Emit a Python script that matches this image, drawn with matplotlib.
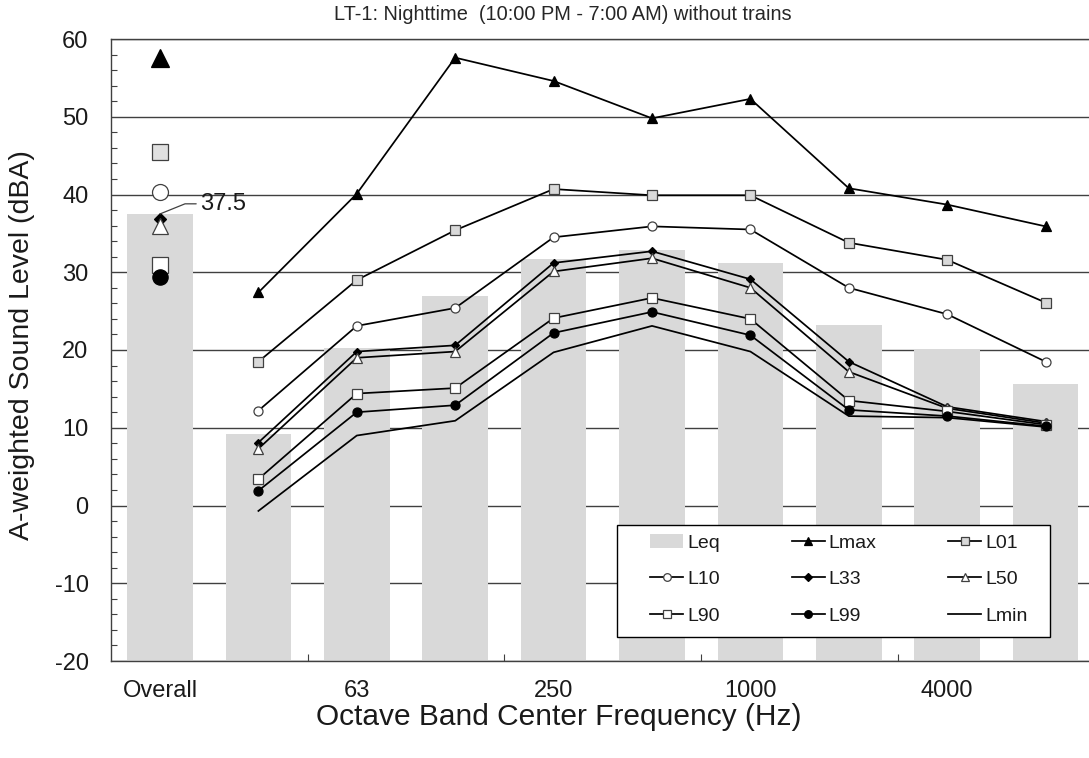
import matplotlib
matplotlib.use("Agg")
import matplotlib.pyplot as plt
from matplotlib.patches import Patch, Rectangle
from matplotlib.lines import Line2D
from matplotlib.ticker import MultipleLocator, FixedLocator

plt.rcParams['font.family'] = ['Liberation Sans', 'DejaVu Sans']
plt.rcParams['axes.unicode_minus'] = False

# ---- data ----
categories = ['Overall', '31.5', '63', '125', '250', '500', '1000', '2000', '4000', '8000']
tick_labels = ['Overall', '', '63', '', '250', '', '1000', '', '4000', '']

leq_overall = 37.5
leq_bands = [9.2, 20.3, 27.0, 31.7, 32.8, 31.2, 23.2, 20.1, 15.6]

lmax_overall = 57.6
lmax = [27.4, 40.1, 57.6, 54.6, 49.8, 52.3, 40.8, 38.7, 35.9]
l01_overall = 45.5
l01 = [18.5, 29.0, 35.4, 40.7, 39.9, 39.9, 33.8, 31.6, 26.1]
l10_overall = 40.3
l10 = [12.2, 23.1, 25.4, 34.5, 35.9, 35.5, 28.0, 24.6, 18.5]
l33_overall = 36.9
l33 = [8.1, 19.8, 20.6, 31.2, 32.7, 29.1, 18.5, 12.7, 10.8]
l50_overall = 36.0
l50 = [7.3, 19.0, 19.8, 30.1, 31.8, 28.0, 17.2, 12.5, 10.6]
l90_overall = 30.9
l90 = [3.4, 14.4, 15.1, 24.1, 26.7, 24.0, 13.5, 12.1, 10.4]
l99_overall = 29.4
l99 = [1.9, 12.0, 12.9, 22.2, 24.9, 21.9, 12.3, 11.5, 10.2]
lmin = [-0.7, 9.0, 10.9, 19.7, 23.1, 19.8, 11.5, 11.3, 10.1]

title = 'LT-1: Nighttime  (10:00 PM - 7:00 AM) without trains'
y_min, y_max = -20, 60

# ---- figure ----
W, H = 1089, 758
fig = plt.figure(figsize=(W / 100, H / 100), dpi=100)
ax = fig.add_axes([110.8 / W, (H - 661) / H, 984 / W, 622 / H])

xs = list(range(len(categories)))
band_x = xs[1:]
bar_color = '#d9d9d9'
grid_color = '#404040'
text_color = '#1a1a1a'

ax.set_axisbelow(True)
ax.yaxis.grid(True, which='major', color=grid_color, linewidth=1.0)
leq_all = [leq_overall] + leq_bands
# Excel-style bars rising from the bottom of the value axis
ax.bar(xs, [v - y_min for v in leq_all], bottom=y_min, width=0.667,
       color=bar_color, zorder=2)

lw = 1.25
series = [
    (lmax, dict(marker='^', ms=7.5, mfc='black', mec='black')),
    (l01, dict(marker='s', ms=6.5, mfc=bar_color, mec='#404040')),
    (l10, dict(marker='o', ms=6.5, mfc='white', mec='#404040')),
    (l33, dict(marker='D', ms=4.5, mfc='black', mec='black')),
    (l50, dict(marker='^', ms=7.5, mfc='white', mec='#404040')),
    (l90, dict(marker='s', ms=6.5, mfc='white', mec='#404040')),
    (l99, dict(marker='o', ms=6.5, mfc='black', mec='black')),
    (lmin, dict(marker=None)),
]
for vals, st in series:
    ax.plot(band_x, vals, color='black', linewidth=lw, zorder=4, mew=0.9, **st)

overall = [
    (lmax_overall, dict(marker='^', ms=12.5, mfc='black', mec='black')),
    (l01_overall, dict(marker='s', ms=11.5, mfc='#e0e0e0', mec='#404040')),
    (l10_overall, dict(marker='o', ms=11.5, mfc='white', mec='#404040')),
    (l33_overall, dict(marker='D', ms=6.5, mfc='black', mec='black')),
    (l50_overall, dict(marker='^', ms=12, mfc='white', mec='#404040')),
    (l90_overall, dict(marker='s', ms=11, mfc='white', mec='#404040')),
    (l99_overall, dict(marker='o', ms=11, mfc='black', mec='black')),
]
for v, st in overall:
    ax.plot([0], [v], linestyle='none', zorder=5, mew=0.9, **st)

ax.annotate(f'{leq_overall:.1f}', xy=(0, leq_overall), xytext=(0.41, 38.8),
            fontsize=17, ha='left', va='center', color=text_color, zorder=6,
            arrowprops=dict(arrowstyle='-', color='#404040', lw=0.9,
                            shrinkA=1, shrinkB=0,
                            connectionstyle='angle,angleA=0,angleB=22,rad=0'))

ax.set_xlim(-0.5, len(categories) - 0.5)
ax.set_ylim(y_min, y_max)
ax.yaxis.set_major_locator(MultipleLocator(10))
ax.yaxis.set_minor_locator(MultipleLocator(2))
ax.tick_params(axis='y', which='major', length=0, labelsize=17, pad=16,
               colors=text_color)
ax.tick_params(axis='y', which='minor', direction='in', length=4, width=0.8,
               color='#404040')

ax.xaxis.set_major_locator(FixedLocator(xs))
ax.set_xticklabels(tick_labels)
ax.xaxis.set_minor_locator(FixedLocator([1.5, 3.5, 5.5, 7.5]))
ax.tick_params(axis='x', which='major', length=0, labelsize=17, pad=14,
               colors=text_color)
ax.tick_params(axis='x', which='minor', direction='in', length=5, width=0.8,
               color='#404040')

for s in ['left', 'bottom', 'top']:
    ax.spines[s].set_color(grid_color)
    ax.spines[s].set_linewidth(1.0)
ax.spines['right'].set_visible(False)

fig.text(22 / W, 1 - 345 / H, 'A-weighted Sound Level (dBA)', rotation=90,
         ha='center', va='center', fontsize=20.5, color=text_color)
fig.text(559 / W, 1 - 717 / H, 'Octave Band Center Frequency (Hz)',
         ha='center', va='center', fontsize=21.5, color=text_color)
fig.text(563 / W, 1 - 14 / H, title, ha='center', va='center',
         fontsize=14.4, color='#262626')

# legend frame (fixed box as in the reference) + frameless legend on top
def ax_x(px):
    return (px - 110.8) / 984

def ax_y(py):
    return (661 - py) / 622

frame = Rectangle((ax_x(617), ax_y(637)), ax_x(1050) - ax_x(617),
                  ax_y(525) - ax_y(637), transform=ax.transAxes,
                  facecolor='white', edgecolor='black', linewidth=1.0,
                  zorder=9)
ax.add_patch(frame)

def lh(**kw):
    return Line2D([], [], color='black', linewidth=lw, mew=0.9, **kw)

h = {
    'Leq': Patch(facecolor=bar_color, edgecolor='none'),
    'Lmax': lh(marker='^', ms=6, mfc='black', mec='black'),
    'L01': lh(marker='s', ms=5.5, mfc=bar_color, mec='#404040'),
    'L10': lh(marker='o', ms=5.5, mfc='white', mec='#404040'),
    'L33': lh(marker='D', ms=4, mfc='black', mec='black'),
    'L50': lh(marker='^', ms=6, mfc='white', mec='#404040'),
    'L90': lh(marker='s', ms=5.5, mfc='white', mec='#404040'),
    'L99': lh(marker='o', ms=5.5, mfc='black', mec='black'),
    'Lmin': lh(),
}
order = ['Leq', 'L10', 'L90', 'Lmax', 'L33', 'L99', 'L01', 'L50', 'Lmin']
leg = ax.legend([h[k] for k in order], order, ncol=3, loc='upper left',
                bbox_to_anchor=(ax_x(650), ax_y(534)), borderaxespad=0,
                borderpad=0, fontsize=14, frameon=False, handlelength=1.7,
                handletextpad=0.2, labelspacing=0.98, columnspacing=3.7,
                labelcolor=text_color)
leg.set_zorder(10)

fig.savefig('out.png', dpi=100)
